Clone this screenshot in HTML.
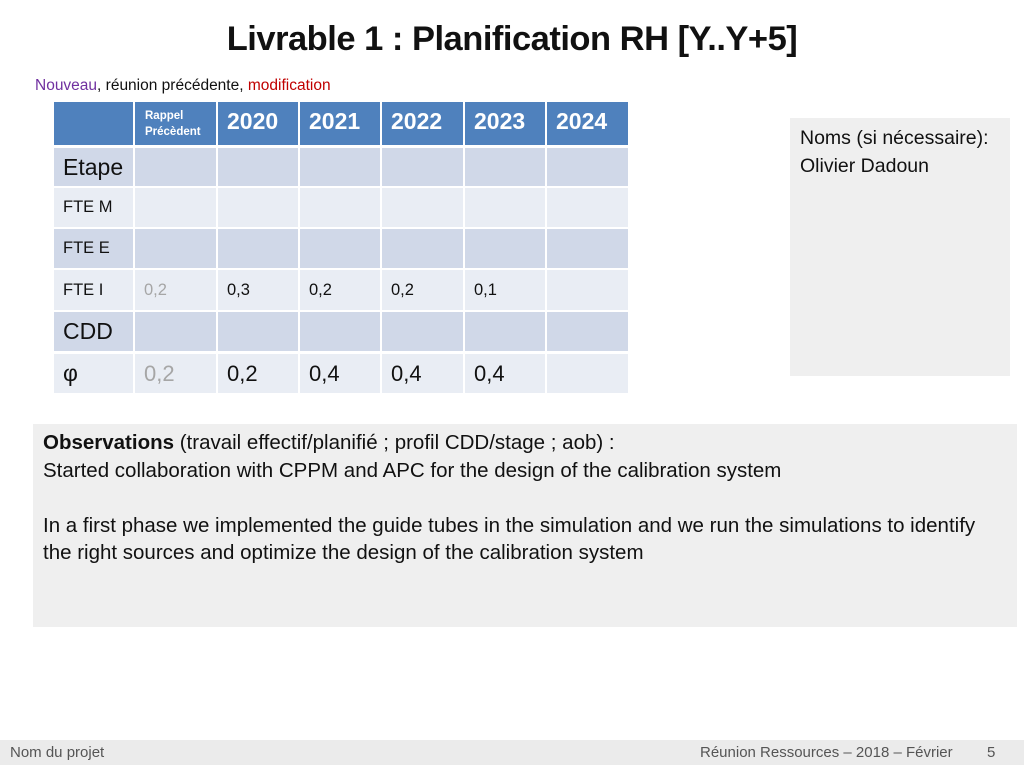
<!DOCTYPE html>
<html><head><meta charset="utf-8"><style>
body{margin:0;width:1024px;height:768px;background:#fff;position:relative;overflow:hidden;font-family:"Liberation Sans",sans-serif;color:#111}
.a{position:absolute}
.c{position:absolute;box-sizing:border-box;padding-left:9px;display:flex;align-items:center;white-space:nowrap}
</style></head><body>
<div class="a" style="left:0;width:1024px;top:20px;text-align:center;font-size:34.5px;font-weight:bold;letter-spacing:-0.5px">Livrable 1 : Planification RH [Y..Y+5]</div>
<div class="a" style="left:35px;top:77px;font-size:15.5px"><span style="color:#7030a0">Nouveau</span>, réunion précédente, <span style="color:#c00000">modification</span></div>
<div id="tbl"></div>
<div class="a" style="left:790px;top:118px;width:220px;height:258px;background:#efefef;box-sizing:border-box;padding:6px 10px;font-size:19.5px;line-height:28px;white-space:nowrap">Noms (si nécessaire):<br>Olivier Dadoun</div>
<div class="a" style="left:33px;top:424px;width:984px;height:203px;background:#efefef;box-sizing:border-box;padding:5px 10px;font-size:20.5px;line-height:27.5px;white-space:nowrap"><b>Observations</b> (travail effectif/planifié ; profil CDD/stage ; aob) :<br>Started collaboration with CPPM and APC for the design of the calibration system<br><br>In a first phase we implemented the guide tubes in the simulation and we run the simulations to identify<br>the right sources and optimize the design of the calibration system</div>
<div class="a" style="left:0;top:740px;width:1024px;height:25px;background:#ebebeb"></div>
<div class="a" style="left:10px;top:744px;font-size:15px;color:#555">Nom du projet</div>
<div class="a" style="left:700px;top:744px;font-size:15px;color:#555">Réunion Ressources – 2018 – Février</div>
<div class="a" style="left:987px;top:744px;font-size:15px;color:#555">5</div>
<script>
const cols=[53,134,217,299,381,464,546,629];
const rows=[[102,145],[148,186],[188,227],[229,268],[270,310],[312,351],[354,393]];
const years=["2020","2021","2022","2023","2024"];
const rowLabels=["Etape","FTE M","FTE E","FTE I","CDD","φ"];
const prevValues=["","","","0,2","","0,2"];
const fteI=["0,3","0,2","0,2","0,1",""];
const phi=["0,2","0,4","0,4","0,4",""];
const t=document.getElementById('tbl');
function cell(r,c,txt,style){
 const d=document.createElement('div');d.className='c';
 
 
 d.style.left=(cols[c]+1)+'px';d.style.width=(cols[c+1]-cols[c]-2)+'px';
 d.style.top=rows[r][0]+'px';d.style.height=(rows[r][1]-rows[r][0])+'px';
 d.textContent=txt;Object.assign(d.style,style);t.appendChild(d);
}
for(let c=0;c<7;c++){
 let txt=c<2?'':years[c-2];
 cell(0,c,txt,{background:'#4f81bd',color:'#fff',fontWeight:'bold',fontSize:'23px',paddingBottom:'4px'});
}
const rp=document.createElement('div');rp.className='a';


rp.style.cssText='left:145px;top:108px;font-size:11.5px;font-weight:bold;color:#fff;line-height:16px';
rp.innerHTML='Rappel<br>Précèdent';t.appendChild(rp);
for(let r=0;r<6;r++){
 const bg=r%2==0?'#d0d8e8':'#e9edf4';
 const big=(r==0||r==4||r==5);
 for(let c=0;c<7;c++){
  let txt='',col='#111';
  if(c==0)txt=rowLabels[r];
  else if(c==1){txt=prevValues[r];col='#a6a6a6';}
  else if(r==3)txt=fteI[c-2];
  else if(r==5)txt=phi[c-2];
  const fs=c==0?(big?'23px':'16.5px'):(r==5?'22px':'16.5px');
  cell(r+1,c,txt,{background:bg,color:col,fontSize:fs});
 }
}
</script>
</body></html>
